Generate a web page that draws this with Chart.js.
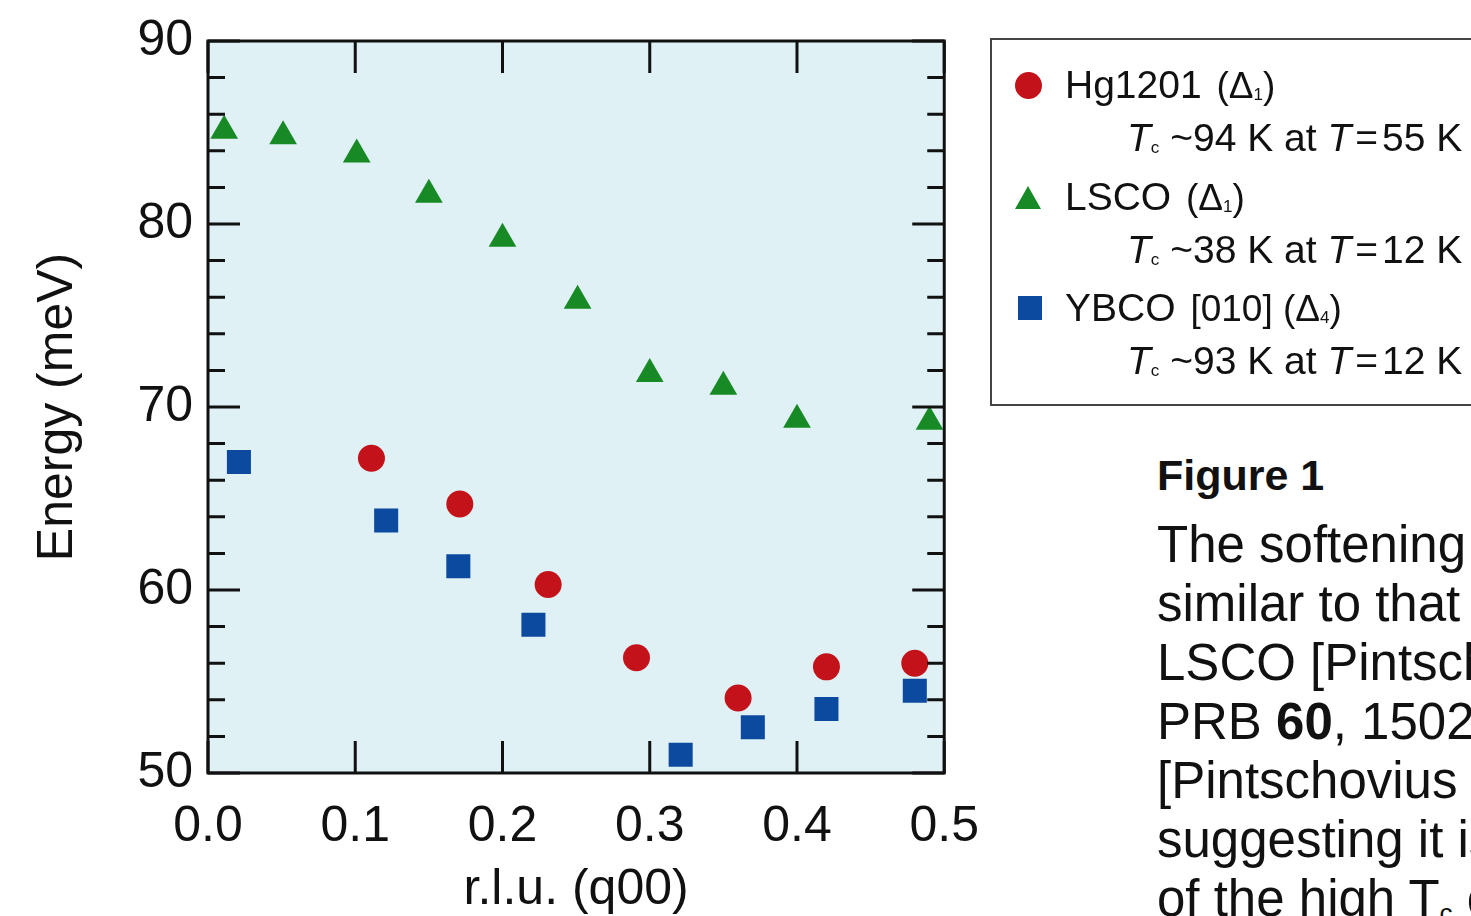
<!DOCTYPE html>
<html>
<head>
<meta charset="utf-8">
<script src="https://cdn.jsdelivr.net/npm/chart.js@4.4.1/dist/chart.umd.min.js"></script>
<style>
  body { margin: 0; width: 1471px; height: 916px; overflow: hidden; background: #fff; position: relative;
         font-family: "Liberation Sans", Arial, Helvetica, sans-serif; color: #111; }
  #wrap { position: absolute; left: 0; top: -4px; width: 1003px; height: 920px; }
  .abs { position: absolute; white-space: nowrap; }
  #legend { position: absolute; left: 990px; top: 38px; width: 560px; height: 364px; border: 2px solid #444; }
  .row { position: absolute; white-space: nowrap; font-size: 39px; line-height: 50px; }
  .sym { font-size: 37px; padding-left: 4px; }
  .sym sub, .tc sub { font-size: 17px; vertical-align: 0; position: relative; top: 2px; }
  .it { font-style: italic; }
  .eq { padding: 0 4px; }
  .cap { font-size: 51px; line-height: 59px; }
</style>
</head>
<body>
<div id="wrap"><canvas id="chart" width="1003" height="920"></canvas></div>

<div id="legend"></div>
<div class="abs" style="left:1015px;top:72px;width:27px;height:27px;border-radius:50%;background:#c4121b;"></div>
<div class="abs" style="left:1015px;top:186px;width:0;height:0;border-left:13px solid transparent;border-right:13px solid transparent;border-bottom:23px solid #178a25;"></div>
<div class="abs" style="left:1018px;top:296px;width:24px;height:24px;background:#0b4a9e;"></div>

<div class="row" style="left:1065px;top:60px;">Hg1201 <span class="sym">(Δ<sub>1</sub>)</span></div>
<div class="row" style="left:1127px;top:113px;"><span class="it">T</span><span class="tc"><sub>c</sub></span> ~94 K at <span class="it">T</span><span class="eq">=</span>55 K</div>
<div class="row" style="left:1065px;top:172px;">LSCO <span class="sym">(Δ<sub>1</sub>)</span></div>
<div class="row" style="left:1127px;top:225px;"><span class="it">T</span><span class="tc"><sub>c</sub></span> ~38 K at <span class="it">T</span><span class="eq">=</span>12 K</div>
<div class="row" style="left:1065px;top:283px;">YBCO <span class="sym">[010] (Δ<sub>4</sub>)</span></div>
<div class="row" style="left:1127px;top:336px;"><span class="it">T</span><span class="tc"><sub>c</sub></span> ~93 K at <span class="it">T</span><span class="eq">=</span>12 K</div>

<div class="abs" style="left:1157px;top:450px;font-size:43px;line-height:50px;font-weight:bold;">Figure 1</div>
<div class="abs cap" style="left:1157px;top:515px;">
  The softening of the<br>
  similar to that obser<br>
  LSCO [Pintschovius<br>
  PRB <b>60</b>, 15027<br>
  [Pintschovius et al.<br>
  suggesting it is a<br>
  of the high T<sub style="font-size:26px;vertical-align:0;position:relative;top:6px;">c</sub> cuprates
</div>

<script>
// Axis ticks
const xTicks = [0, 0.1, 0.2, 0.3, 0.4, 0.5];
const yTicks = [50, 60, 70, 80, 90];
const yMinorTicks = [52, 54, 56, 58, 62, 64, 66, 68, 72, 74, 76, 78, 82, 84, 86, 88];

// Hg1201 (circles)
const hgQ = [0.111, 0.171, 0.231, 0.291, 0.360, 0.420, 0.480];
const hgE = [67.2, 64.7, 60.3, 56.3, 54.1, 55.8, 56.0];

// LSCO (triangles)
const lscoQ = [0.011, 0.051, 0.101, 0.150, 0.200, 0.251, 0.300, 0.350, 0.400, 0.490];
const lscoE = [85.1, 84.8, 83.8, 81.6, 79.2, 75.8, 71.8, 71.1, 69.3, 69.2];

// YBCO [010] (squares)
const ybcoQ = [0.021, 0.121, 0.170, 0.221, 0.321, 0.370, 0.420, 0.480];
const ybcoE = [67.0, 63.8, 61.3, 58.1, 51.0, 52.5, 53.5, 54.5];

const toPoints = (qs, es) => qs.map((q, i) => ({ x: q, y: es[i] }));

// Background, frame and inward ticks
const frameTicks = {
    id: 'frameTicks',
    beforeDatasetsDraw(chart) {
        const { ctx, chartArea: a } = chart;
        ctx.save();
        ctx.fillStyle = '#dff1f5';
        ctx.fillRect(a.left, a.top, a.right - a.left, a.bottom - a.top);
        ctx.restore();
    },
    afterDatasetsDraw(chart) {
        const { ctx, chartArea: a, scales: { x, y } } = chart;
        ctx.save();
        ctx.strokeStyle = '#111';
        ctx.lineWidth = 3;
        ctx.beginPath();
        xTicks.forEach(v => {
            const px = x.getPixelForValue(v);
            ctx.moveTo(px, a.bottom); ctx.lineTo(px, a.bottom - 32);
            ctx.moveTo(px, a.top); ctx.lineTo(px, a.top + 32);
        });
        yTicks.forEach(v => {
            const py = y.getPixelForValue(v);
            ctx.moveTo(a.left, py); ctx.lineTo(a.left + 32, py);
            ctx.moveTo(a.right, py); ctx.lineTo(a.right - 32, py);
        });
        yMinorTicks.forEach(v => {
            const py = y.getPixelForValue(v);
            ctx.moveTo(a.left, py); ctx.lineTo(a.left + 17, py);
            ctx.moveTo(a.right, py); ctx.lineTo(a.right - 17, py);
        });
        ctx.stroke();
        ctx.strokeRect(a.left, a.top, a.right - a.left, a.bottom - a.top);
        ctx.restore();
    }
};

const font50 = { family: '"Liberation Sans", Arial, sans-serif', size: 50 };

new Chart(document.getElementById('chart'), {
    type: 'scatter',
    data: {
        datasets: [
            { label: 'Hg1201', data: toPoints(hgQ, hgE), pointStyle: 'circle', pointRadius: 13.5,
              backgroundColor: '#c4121b', borderColor: '#c4121b', borderWidth: 0 },
            { label: 'LSCO', data: toPoints(lscoQ, lscoE), pointStyle: 'triangle', pointRadius: 16,
              backgroundColor: '#178a25', borderColor: '#178a25', borderWidth: 0 },
            { label: 'YBCO [010]', data: toPoints(ybcoQ, ybcoE), pointStyle: 'rect', pointRadius: 17,
              backgroundColor: '#0b4a9e', borderColor: '#0b4a9e', borderWidth: 0 }
        ]
    },
    options: {
        responsive: false,
        animation: false,
        events: [],
        layout: { padding: { top: 20, right: 20, left: 0, bottom: 0 } },
        plugins: { legend: { display: false }, tooltip: { enabled: false } },
        scales: {
            x: {
                type: 'linear', min: 0, max: 0.5,
                afterBuildTicks: s => { s.ticks = xTicks.map(v => ({ value: v })); },
                afterFit: s => { s.height = 143; },
                grid: { display: false, drawTicks: false },
                border: { display: false },
                ticks: { font: font50, color: '#111', padding: 24, maxRotation: 0,
                         callback: v => v.toFixed(1) },
                title: { display: true, text: 'r.l.u. (q00)', font: font50, color: '#111',
                         padding: { top: 0, bottom: -4 } }
            },
            y: {
                type: 'linear', min: 50, max: 90,
                afterBuildTicks: s => { s.ticks = yTicks.map(v => ({ value: v })); },
                afterFit: s => { s.width = 208; },
                grid: { display: false, drawTicks: false },
                border: { display: false },
                ticks: { font: font50, color: '#111', padding: 15 },
                title: { display: true, text: 'Energy (meV)', font: font50, color: '#111',
                         padding: { top: 28, bottom: 0 } }
            }
        }
    },
    plugins: [frameTicks]
});
</script>
</body>
</html>
